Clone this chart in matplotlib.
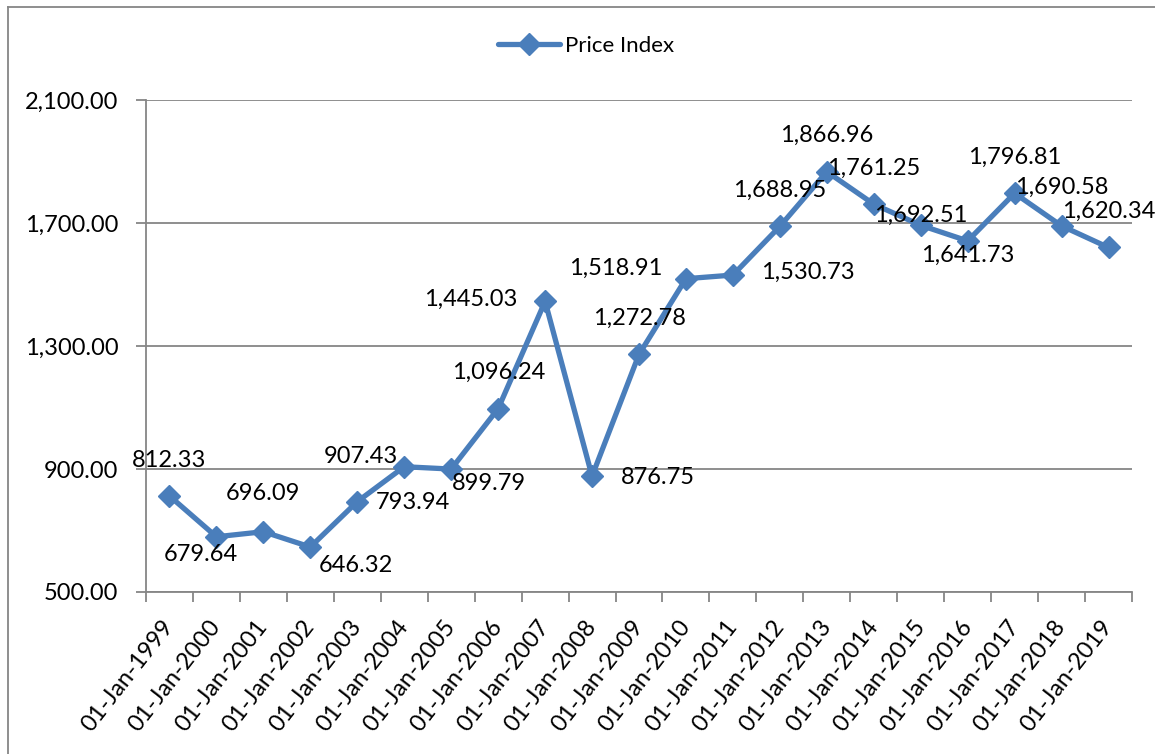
import matplotlib.pyplot as plt
import numpy as np
from matplotlib.ticker import FuncFormatter, FixedLocator
from matplotlib.lines import Line2D

plt.rcParams["font.family"] = ["Lato", "DejaVu Sans"]

dates = ["01-Jan-1999", "01-Jan-2000", "01-Jan-2001", "01-Jan-2002", "01-Jan-2003",
         "01-Jan-2004", "01-Jan-2005", "01-Jan-2006", "01-Jan-2007", "01-Jan-2008",
         "01-Jan-2009", "01-Jan-2010", "01-Jan-2011", "01-Jan-2012", "01-Jan-2013",
         "01-Jan-2014", "01-Jan-2015", "01-Jan-2016", "01-Jan-2017", "01-Jan-2018",
         "01-Jan-2019"]
price_index = [812.33, 679.64, 696.09, 646.32, 793.94, 907.43, 899.79, 1096.24,
               1445.03, 876.75, 1272.78, 1518.91, 1530.73, 1688.95, 1866.96,
               1761.25, 1692.51, 1641.73, 1796.81, 1690.58, 1620.34]
y_ticks = [500, 900, 1300, 1700, 2100]

# label offsets in pixels (dx, dy), as Excel placed them
label_off = [(0, 35), (-16, -18), (0, 38), (46, -18), (56, -1), (-43, 10),
             (38, -14), (0, 36), (-74, 2), (66, -1), (0, 36), (-70, 10),
             (75, 3), (0, 36), (0, 36), (0, 36), (0, 10), (0, -14), (0, 36),
             (0, 39), (0, 36)]

blue = "#4a7ebb"
grey = "#868686"
fs = 17

fig = plt.figure(figsize=(11.55, 7.54), dpi=100)
ax = fig.add_axes([146 / 1155, 162 / 754, 986 / 1155, 492 / 754])

x = np.arange(len(dates))
ax.plot(x, price_index, color=blue, lw=3.8, marker="D", ms=11.5,
        solid_joinstyle="round", solid_capstyle="round")

for xi, v, (dx, dy) in zip(x, price_index, label_off):
    ax.annotate(f"{v:,.2f}", (xi, v), xytext=(dx, dy), textcoords="offset pixels",
                ha="center", va="center", fontsize=fs, color="black")

ax.set_xlim(-0.5, len(dates) - 0.5)
ax.set_ylim(500, 2100)
ax.set_yticks(y_ticks)
ax.yaxis.set_major_formatter(FuncFormatter(lambda v, p: f"{v:,.2f}"))
ax.grid(axis="y", color=grey, lw=1.3)
ax.set_axisbelow(True)

ax.xaxis.set_major_locator(FixedLocator(np.arange(len(dates) + 1) - 0.5))
ax.xaxis.set_minor_locator(FixedLocator(x))
ax.set_xticklabels([])
ax.set_xticklabels(dates, minor=True, rotation=52, ha="right", va="center",
                   rotation_mode="anchor", fontsize=fs)
ax.tick_params(axis="x", which="major", length=7, width=1.3, color=grey)
ax.tick_params(axis="x", which="minor", length=0, pad=22)
ax.tick_params(axis="y", length=7, width=1.3, color=grey, labelsize=fs, pad=13)

for s in ["top", "right"]:
    ax.spines[s].set_visible(False)
for s in ["left", "bottom"]:
    ax.spines[s].set_color(grey)
    ax.spines[s].set_linewidth(1.3)

handle = Line2D([], [], color=blue, lw=3.8, marker="D", ms=11.5,
                solid_capstyle="round")
fig.legend([handle], ["Price Index"], loc="center", bbox_to_anchor=(586 / 1155, 1 - 46 / 754),
           frameon=False, fontsize=16, handlelength=2.8, handletextpad=0.2)

# chart area border
fig.add_artist(Line2D([8 / 1155, 8 / 1155], [0, 1 - 7 / 754], color=grey, lw=1.3,
                      transform=fig.transFigure))
fig.add_artist(Line2D([8 / 1155, 1], [1 - 7 / 754, 1 - 7 / 754], color=grey, lw=1.3,
                      transform=fig.transFigure))

fig.savefig("out.png", dpi=100)
